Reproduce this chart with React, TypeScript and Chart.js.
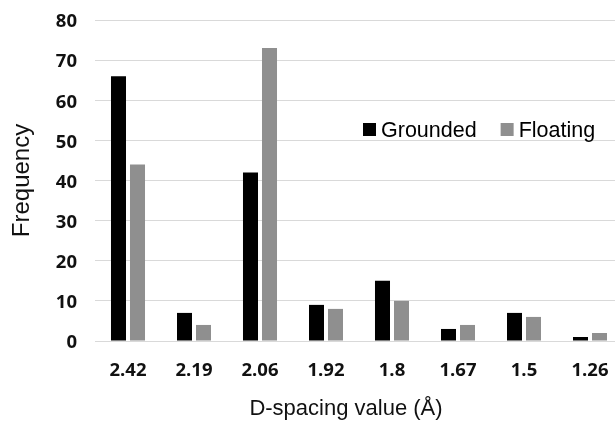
import React, { useEffect, useRef } from "react";
import { Chart, registerables } from "chart.js";

Chart.register(...registerables);

const categories = ["2.42", "2.19", "2.06", "1.92", "1.8", "1.67", "1.5", "1.26"];
const grounded = [66, 7, 42, 9, 15, 3, 7, 1];
const floating = [44, 4, 73, 8, 10, 4, 6, 2];
const seriesNames = ["Grounded", "Floating"];
const yTicks = { min: 0, max: 80, step: 10 };
const xTitle = "D-spacing value (Å)";
const yTitle = "Frequency";

const legendPlugin = {
  id: "insideLegend",
  afterDraw(chart: any) {
    const ctx = chart.ctx;
    ctx.save();
    ctx.font = "21.5px 'Liberation Sans', Arial, sans-serif";
    ctx.textBaseline = "alphabetic";
    let x = 363;
    const baseY = 137;
    chart.data.datasets.forEach((ds: any) => {
      ctx.fillStyle = ds.backgroundColor;
      ctx.fillRect(x, 123, 13, 13);
      ctx.fillStyle = "#000";
      ctx.fillText(ds.label, x + 18, baseY);
      const w = ctx.measureText(ds.label).width;
      x += 18 + w + 24;
    });
    // x-axis title
    ctx.font = "22px 'Liberation Sans', Arial, sans-serif";
    ctx.textAlign = "center";
    ctx.fillStyle = "#111";
    ctx.fillText(xTitle, 346, 415);
    ctx.restore();
  },
};

export default function App() {
  const ref = useRef<HTMLCanvasElement>(null);
  useEffect(() => {
    if (!ref.current) return;
    const chart = new Chart(ref.current, {
      type: "bar",
      data: {
        labels: categories,
        datasets: [
          { label: seriesNames[0], data: grounded, backgroundColor: "#000000" },
          { label: seriesNames[1], data: floating, backgroundColor: "#8f8f8f" },
        ],
      },
      options: {
        animation: false,
        responsive: false,
        devicePixelRatio: 1,
        layout: { padding: { top: 20, right: 7, left: 0, bottom: 0 } },
        datasets: { bar: { categoryPercentage: 0.576, barPercentage: 0.79 } },
        plugins: { legend: { display: false }, tooltip: { enabled: false } },
        scales: {
          x: {
            grid: { display: false },
            border: { display: false },
            ticks: {
              color: "#111",
              padding: 11,
              font: { family: "'Open Sans', sans-serif", size: 18.5, weight: "bold" },
              maxRotation: 0,
            },
            afterFit(scale: any) {
              scale.height = 80;
              scale.paddingLeft = 0;
              scale.paddingRight = 0;
            },
          },
          y: {
            min: yTicks.min,
            max: yTicks.max,
            border: { display: false },
            grid: { color: "#d9d9d9", lineWidth: 1, drawTicks: false },
            ticks: {
              stepSize: yTicks.step,
              color: "#111",
              padding: 18,
              labelOffset: 2,
              font: { family: "'Open Sans', sans-serif", size: 18.5, weight: "bold" },
            },
            title: {
              display: true,
              text: yTitle,
              color: "#111",
              font: { family: "'Liberation Sans', Arial, sans-serif", size: 24 },
              padding: { top: 8, bottom: 0 },
            },
            afterFit(scale: any) {
              scale.width = 95;
              scale.paddingTop = 0;
              scale.paddingBottom = 0;
            },
          },
        },
      },
      plugins: [legendPlugin],
    });
    return () => chart.destroy();
  }, []);
  return (
    <div style={{ position: "fixed", left: 0, top: 0, width: 615, height: 421, overflow: "hidden", background: "#fff" }}>
      <canvas ref={ref} width={630} height={421} style={{ display: "block" }} />
    </div>
  );
}
